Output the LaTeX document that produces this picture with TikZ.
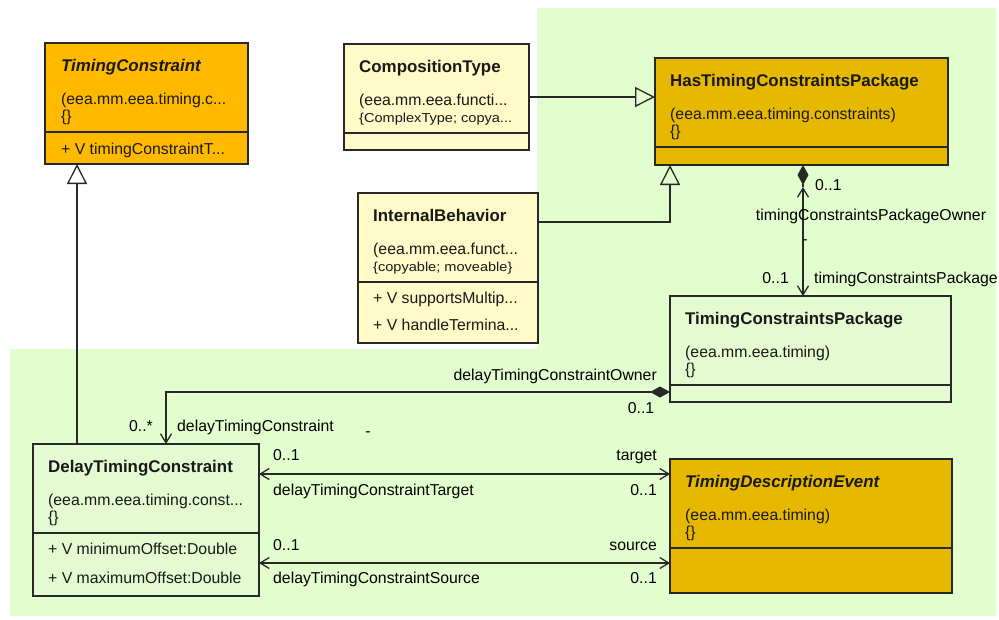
\documentclass[tikz,border=0pt]{standalone}
\usepackage{fontspec}
\setmainfont{Liberation Sans}
\newfontfamily\smallfam[FakeStretch=1.12]{Liberation Sans}
\usetikzlibrary{arrows.meta}

\definecolor{bggreen}{RGB}{226,253,206}
\definecolor{abstractorange}{RGB}{255,186,0}
\definecolor{gold}{RGB}{230,185,0}
\definecolor{paleyellow}{RGB}{255,250,200}
\definecolor{palegreen}{RGB}{228,250,208}
\definecolor{boxline}{RGB}{40,40,40}
\definecolor{ink}{RGB}{25,25,25}

\tikzset{
  box/.style={draw=boxline, line width=1.3pt, rectangle, anchor=north west,
    inner sep=0pt, outer sep=0pt},
  sepline/.style={draw=boxline, line width=1.3pt},
  txt/.style={anchor=base west, inner sep=0pt, text=ink,
    font=\fontsize{15.8}{18}\selectfont},
  ttl/.style={txt, font=\fontsize{16.9}{19}\selectfont\bfseries},
  ittl/.style={txt, font=\fontsize{16.9}{19}\selectfont\bfseries\itshape},
  smalltxt/.style={txt, font=\smallfam\fontsize{13}{15}\selectfont},
  lbl/.style={inner sep=0pt, text=black, font=\fontsize{15.8}{18}\selectfont},
  assoc/.style={draw=boxline, line width=1.3pt},
  gen/.style={assoc, -{Triangle[open, length=20pt, width=20pt, line width=1.3pt]}},
  barb/.tip={Straight Barb[length=9pt, width=11pt, line width=1.3pt]},
  dmd/.tip={Diamond[length=20pt, width=11pt]},
}

\begin{document}
\begin{tikzpicture}[x=1pt, y=-1pt]
\useasboundingbox (0,0) rectangle (999,619);
\fill[white] (0,0) rectangle (999,619);

% package area background
\fill[bggreen] (537,8) -- (996,8) -- (996,616) -- (10,616) -- (10,349)
  -- (537,349) -- cycle;

% ---------- TimingConstraint (abstract) ----------
\node[box, fill=abstractorange, minimum width=203pt, minimum height=121pt] (tc) at (45,43) {};
\draw[sepline] ([yshift=-89pt]tc.north west) -- ([yshift=-89pt]tc.north east);
\node[ittl] (tc-t) at ([shift={(16,28)}]tc.north west) {TimingConstraint};
\node[txt]  (tc-p) at ([shift={(16,61)}]tc.north west) {(eea.mm.eea.timing.c...};
\node[txt]  (tc-b) at ([shift={(16,78)}]tc.north west) {\{\}};
\node[txt]  (tc-a) at ([shift={(16,111)}]tc.north west) {+ V timingConstraintT...};

% ---------- CompositionType ----------
\node[box, fill=paleyellow, minimum width=185pt, minimum height=106pt] (ct) at (344,44) {};
\draw[sepline] ([yshift=-89pt]ct.north west) -- ([yshift=-89pt]ct.north east);
\node[ttl]      (ct-t) at ([shift={(15,28)}]ct.north west) {CompositionType};
\node[txt]      (ct-p) at ([shift={(15,61)}]ct.north west) {(eea.mm.eea.functi...};
\node[smalltxt] (ct-b) at ([shift={(15,78)}]ct.north west) {\{ComplexType; copya...};

% ---------- HasTimingConstraintsPackage ----------
\node[box, fill=gold, minimum width=293pt, minimum height=107pt] (htcp) at (655,58) {};
\draw[sepline] ([yshift=-89pt]htcp.north west) -- ([yshift=-89pt]htcp.north east);
\node[ttl] (htcp-t) at ([shift={(15,28)}]htcp.north west) {HasTimingConstraintsPackage};
\node[txt] (htcp-p) at ([shift={(15,61)}]htcp.north west) {(eea.mm.eea.timing.constraints)};
\node[txt] (htcp-b) at ([shift={(15,78)}]htcp.north west) {\{\}};

% ---------- InternalBehavior ----------
\node[box, fill=paleyellow, minimum width=180pt, minimum height=150pt] (ib) at (358,193) {};
\draw[sepline] ([yshift=-89pt]ib.north west) -- ([yshift=-89pt]ib.north east);
\node[ttl]      (ib-t)  at ([shift={(15,28)}]ib.north west) {InternalBehavior};
\node[txt]      (ib-p)  at ([shift={(15,61)}]ib.north west) {(eea.mm.eea.funct...};
\node[smalltxt] (ib-b)  at ([shift={(15,78)}]ib.north west) {\{copyable; moveable\}};
\node[txt]      (ib-a1) at ([shift={(15,110)}]ib.north west) {+ V supportsMultip...};
\node[txt]      (ib-a2) at ([shift={(15,137)}]ib.north west) {+ V handleTermina...};

% ---------- TimingConstraintsPackage ----------
\node[box, fill=palegreen, minimum width=281pt, minimum height=106pt] (tcp) at (670,296) {};
\draw[sepline] ([yshift=-89pt]tcp.north west) -- ([yshift=-89pt]tcp.north east);
\node[ttl] (tcp-t) at ([shift={(15,28)}]tcp.north west) {TimingConstraintsPackage};
\node[txt] (tcp-p) at ([shift={(15,61)}]tcp.north west) {(eea.mm.eea.timing)};
\node[txt] (tcp-b) at ([shift={(15,78)}]tcp.north west) {\{\}};

% ---------- DelayTimingConstraint ----------
\node[box, fill=palegreen, minimum width=226pt, minimum height=152pt] (dtc) at (33,444) {};
\draw[sepline] ([yshift=-89pt]dtc.north west) -- ([yshift=-89pt]dtc.north east);
\node[ttl] (dtc-t)  at ([shift={(15,28)}]dtc.north west) {DelayTimingConstraint};
\node[txt] (dtc-p)  at ([shift={(15,61)}]dtc.north west) {(eea.mm.eea.timing.const...};
\node[txt] (dtc-b)  at ([shift={(15,78)}]dtc.north west) {\{\}};
\node[txt] (dtc-a1) at ([shift={(15,110)}]dtc.north west) {+ V minimumOffset:Double};
\node[txt] (dtc-a2) at ([shift={(15,139)}]dtc.north west) {+ V maximumOffset:Double};

% ---------- TimingDescriptionEvent (abstract) ----------
\node[box, fill=gold, minimum width=282pt, minimum height=134pt] (tde) at (670,459) {};
\draw[sepline] ([yshift=-89pt]tde.north west) -- ([yshift=-89pt]tde.north east);
\node[ittl] (tde-t) at ([shift={(15,28)}]tde.north west) {TimingDescriptionEvent};
\node[txt]  (tde-p) at ([shift={(15,61)}]tde.north west) {(eea.mm.eea.timing)};
\node[txt]  (tde-b) at ([shift={(15,78)}]tde.north west) {\{\}};

% ---------- generalizations ----------
\draw[gen] ([xshift=44pt]dtc.north west) -- ([xshift=44pt]dtc.north west |- tc.south);
\draw[gen] (ct.east) -- (ct.east -| htcp.west);
\draw[gen] ([yshift=-29pt]ib.north east) -| ([xshift=15pt]htcp.south west);

% ---------- HasTimingConstraintsPackage <>-- TimingConstraintsPackage ----------
\coordinate (cpTop) at ([xshift=148pt]htcp.south west);
\coordinate (cpBar) at ([yshift=-22pt]cpTop);
\draw[assoc, {dmd}-] (cpTop) -- (cpBar);
\draw[assoc, {barb}-{barb}] (cpBar) -- (cpTop |- tcp.north);
\node[lbl, anchor=base west] (cp-m1) at (815,190) {0..1};
\node[lbl, anchor=base]      (cp-r1) at (871,220) {timingConstraintsPackageOwner};
\node[lbl, anchor=base]      (cp-d)  at (805,244) {-};
\node[lbl, anchor=base east] (cp-m2) at (789,283) {0..1};
\node[lbl, anchor=base west] (cp-r2) at (814,283) {timingConstraintsPackage};

% ---------- TimingConstraintsPackage <>-- DelayTimingConstraint ----------
\draw[assoc, {dmd}-{barb}] ([yshift=10pt]tcp.south west) -| ([xshift=133pt]dtc.north west);
\node[lbl, anchor=base east] (ow-r1) at (657,380) {delayTimingConstraintOwner};
\node[lbl, anchor=base]      (ow-m1) at (641,413) {0..1};
\node[lbl, anchor=base east] (ow-m2) at (153,431) {0..*};
\node[lbl, anchor=base west] (ow-r2) at (177,431) {delayTimingConstraint};
\node[lbl, anchor=base]      (ow-d)  at (368,436) {-};

% ---------- target association ----------
\draw[assoc, {barb}-{barb}] ([yshift=-30pt]dtc.north east) -- ([yshift=-30pt]dtc.north east -| tde.west);
\node[lbl, anchor=base west] (tg-m1) at (273,460) {0..1};
\node[lbl, anchor=base east] (tg-r1) at (657,460) {target};
\node[lbl, anchor=base west] (tg-r2) at (273,495) {delayTimingConstraintTarget};
\node[lbl, anchor=base east] (tg-m2) at (657,495) {0..1};

% ---------- source association ----------
\draw[assoc, {barb}-{barb}] ([yshift=-119pt]dtc.north east) -- ([yshift=-119pt]dtc.north east -| tde.west);
\node[lbl, anchor=base west] (sr-m1) at (273,550) {0..1};
\node[lbl, anchor=base east] (sr-r1) at (657,550) {source};
\node[lbl, anchor=base west] (sr-r2) at (273,583) {delayTimingConstraintSource};
\node[lbl, anchor=base east] (sr-m2) at (657,583) {0..1};
\end{tikzpicture}
\end{document}
